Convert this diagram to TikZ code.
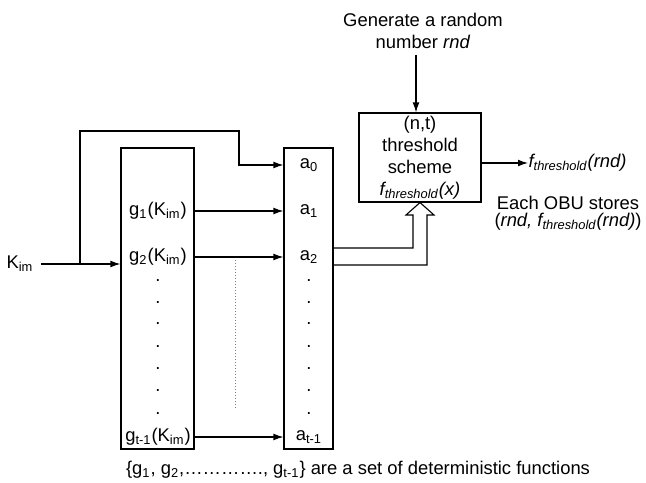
\documentclass[tikz,border=0pt]{standalone}
\usepackage{fontspec}
\setmainfont{Liberation Sans}
\usetikzlibrary{arrows.meta,positioning}

\begin{document}
\begin{tikzpicture}[x=0.5pt, y=-0.5pt,
  font=\fontsize{9.2}{11}\selectfont,
  line width=0.55pt,
  every node/.style={inner sep=0pt},
  column/.style={draw, minimum width=#1, minimum height=150.5pt},
  arr/.style={-{Latex[length=5pt,width=3.4pt]}}]
\useasboundingbox (0,0) rectangle (646,482);

% key and the two columns
\node (kim) at (20,264) {K\textsubscript{im}};
\coordinate (split) at (80,264);
\coordinate (loopturn) at (239,131);
\node[column=36.5pt] (gbox) at (157.5,298.5) {};
\node[column=24.5pt] (abox) at (308.5,298.5) {};

\node (g1) at (158,211) {g\textsubscript{1}(K\textsubscript{im})};
\node (g2) at (158,257) {g\textsubscript{2}(K\textsubscript{im})};
\node (gt) at (158,437) {g\textsubscript{t-1}(K\textsubscript{im})};
\node (a0) at (309,165) {a\textsubscript{0}};
\node (a1) at (309,211) {a\textsubscript{1}};
\node (a2) at (309,257) {a\textsubscript{2}};
\node (at) at (309,437) {a\textsubscript{t-1}};
\foreach \y [count=\i] in {281,303,324,347,369,391,414}{
  \node (gd\i) at (158,\y) {.};
  \node (ad\i) at (309,\y) {.};
}

% threshold scheme
\node[draw, minimum width=61pt, minimum height=44.5pt, align=center] (thr) at (420,157.5)
  {(n,t)\\threshold\\scheme\\\textit{f\textsubscript{threshold}(x)}};
\node[align=center] (gen) at (423,31) {Generate a random\\number \textit{rnd}};
\coordinate (rndin) at ([xshift=-2pt]thr.north);
\node[anchor=west] (fout) at (528,163) {\textit{f\textsubscript{threshold}(rnd)}};
\node (obu1) at (568,203) {Each OBU stores};
\node (obu2) at (568,222) {(\textit{rnd, f\textsubscript{threshold}(rnd)})};
\node (fnote) at (358,470)
  {\{g\textsubscript{1}, g\textsubscript{2},\ldots\ldots\ldots\ldots., g\textsubscript{t-1}\} are a set of deterministic functions};

% connectors
\draw[arr, shorten <=3.5pt] (kim.east) -- (gbox.west |- kim);
\draw[arr] (split) |- (loopturn) |- (a0.west -| abox.west);
\draw[arr] (g1 -| gbox.east) -- (a1 -| abox.west);
\draw[arr] (g2 -| gbox.east) -- (a2 -| abox.west);
\draw[arr] (gt -| gbox.east) -- (at -| abox.west);
\draw[gray, densely dotted, line width=0.5pt] (235,260) -- (235,410);
\draw[arr, shorten <=3pt] (gen.south -| rndin) -- (rndin);
\draw[arr] (thr.east |- fout) -- (fout.west);

% hollow arrow from a-column into the scheme
\draw (abox.east |- 0,248) -- (413,248) -- (413,215) -- (406,215) -- (thr.south)
  -- (434,215) -- (427,215) -- (427,265) -- (abox.east |- 0,265);
\end{tikzpicture}
\end{document}
